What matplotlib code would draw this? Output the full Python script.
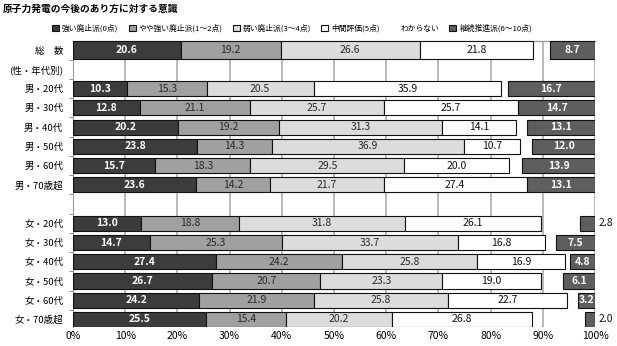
import numpy as np
import matplotlib
matplotlib.use("Agg")
import matplotlib.pyplot as plt
from matplotlib.ticker import FixedLocator, FuncFormatter

plt.rcParams['font.family'] = ['Noto Sans CJK JP', 'DejaVu Sans']

title = "原子力発電の今後のあり方に対する意識"

rows = ["総　数", "(性・年代別)",
        "男・20代", "男・30代", "男・40代", "男・50代", "男・60代", "男・70歳超",
        "",
        "女・20代", "女・30代", "女・40代", "女・50代", "女・60代", "女・70歳超"]

nan = np.nan
strong   = [20.6, nan, 10.3, 12.8, 20.2, 23.8, 15.7, 23.6, nan, 13.0, 14.7, 27.4, 26.7, 24.2, 25.5]
somewhat = [19.2, nan, 15.3, 21.1, 19.2, 14.3, 18.3, 14.2, nan, 18.8, 25.3, 24.2, 20.7, 21.9, 15.4]
weak     = [26.6, nan, 20.5, 25.7, 31.3, 36.9, 29.5, 21.7, nan, 31.8, 33.7, 25.8, 23.3, 25.8, 20.2]
neutral  = [21.8, nan, 35.9, 25.7, 14.1, 10.7, 20.0, 27.4, nan, 26.1, 16.8, 16.9, 19.0, 22.7, 26.8]
unknown  = [3.1, nan, 1.3, 0.0, 2.1, 2.3, 2.6, 0.0, nan, 7.5, 2.0, 0.9, 4.2, 2.2, 10.1]
promote  = [8.7, nan, 16.7, 14.7, 13.1, 12.0, 13.9, 13.1, nan, 2.8, 7.5, 4.8, 6.1, 3.2, 2.0]

series = [
    ("強い廃止派(0点)",      strong,   "#3c3c3c", "white"),
    ("やや強い廃止派(1～2点)", somewhat, "#a0a0a0", "#2a2a2a"),
    ("弱い廃止派(3～4点)",    weak,     "#dcdcdc", "#2a2a2a"),
    ("中間評価(5点)",        neutral,  "white",   "#111111"),
    ("わからない",           unknown,  "none",    None),
    ("継続推進派(6～10点)",   promote,  "#5e5e5e", "white"),
]

fig = plt.figure(figsize=(6.17, 3.46), dpi=100)
ax = fig.add_axes([0.1183, 0.0549, 0.8460, 0.8266])

y = np.arange(len(rows))
heights = np.full(len(rows), 0.78)
heights[0] = 0.9

left = np.zeros(len(rows))
handles = []
for name, vals, color, tcolor in series:
    vals = np.array(vals, dtype=float)
    ok = ~np.isnan(vals)
    edge = "none" if color == "none" else "#111111"
    bars = ax.barh(y[ok], vals[ok], left=left[ok], height=heights[ok],
                   color=color, edgecolor=edge, linewidth=0.8, label=name, zorder=3)
    handles.append(bars)
    if tcolor is not None:
        for yi, v, l0 in zip(y[ok], vals[ok], left[ok]):
            bold = tcolor == "white"
            if v < 3:
                # too narrow for the number, put it past the bar end
                ax.text(l0 + v + 0.7, yi, f"{v:.1f}", ha="left", va="center",
                        fontsize=7.5, color="#111111", clip_on=False)
            else:
                ax.text(l0 + v / 2, yi, f"{v:.1f}", ha="center", va="center",
                        fontsize=7.5, color=tcolor,
                        fontweight="bold" if bold else "normal", zorder=4)
    left[ok] += vals[ok]

ax.set_xlim(0, 100)
ax.set_ylim(14.39, -0.47)

ax.xaxis.set_major_locator(FixedLocator(np.arange(0, 101, 10)))
ax.xaxis.set_major_formatter(FuncFormatter(lambda v, p: f"{v:.0f}%"))
ax.tick_params(axis="x", which="major", length=0, labelsize=7.5, pad=3,
               top=True, labeltop=False)
ax.grid(axis="x", color="#b4b4b4", linewidth=1.3, zorder=0)

ax.set_yticks(y)
ax.set_yticklabels(rows, fontsize=6.8)
ax.yaxis.set_minor_locator(FixedLocator(np.arange(-0.5, 14.6, 1)))
ax.tick_params(axis="y", which="major", length=0, pad=7)
ax.tick_params(axis="y", which="minor", length=3, color="#999999", width=0.8)

for side in ["right", "bottom"]:
    ax.spines[side].set_visible(False)
ax.spines["left"].set_color("#999999")
ax.spines["top"].set_color("#999999")
ax.spines["top"].set_linewidth(1.0)

fig.text(0.004, 0.988, title, fontsize=7, fontweight="bold", va="top", ha="left")

fig.legend(handles=handles, labels=[s[0] for s in series], ncol=6,
           loc="center left", bbox_to_anchor=(0.078, 0.918), frameon=False,
           fontsize=5.6, handlelength=0.9, handleheight=0.9, handletextpad=0.4,
           columnspacing=1.3, borderpad=0)

fig.savefig("out.png", dpi=100)
